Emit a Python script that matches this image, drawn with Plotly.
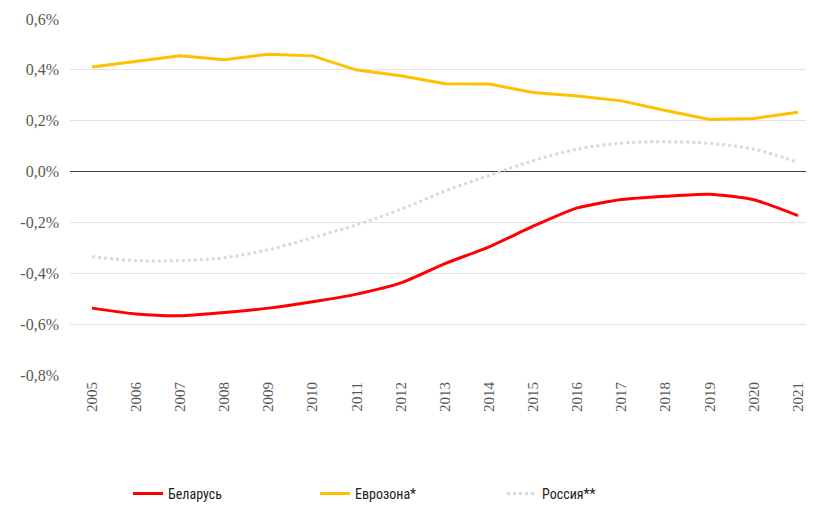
import plotly.graph_objects as go

years = [str(y) for y in range(2005, 2022)]
belarus = [-0.537, -0.560, -0.567, -0.554, -0.537, -0.512, -0.482, -0.438, -0.362,
           -0.296, -0.215, -0.143, -0.110, -0.097, -0.089, -0.111, -0.173]
eurozone = [0.411, 0.433, 0.455, 0.440, 0.461, 0.455, 0.399, 0.377, 0.345,
            0.344, 0.311, 0.297, 0.278, 0.240, 0.205, 0.209, 0.233]
russia = [-0.335, -0.350, -0.350, -0.339, -0.307, -0.260, -0.209, -0.148, -0.077,
          -0.015, 0.043, 0.088, 0.112, 0.117, 0.111, 0.088, 0.036]
tick_vals = [0.6, 0.4, 0.2, 0.0, -0.2, -0.4, -0.6, -0.8]
tick_text = ["0,6%", "0,4%", "0,2%", "0,0%", "-0,2%", "-0,4%", "-0,6%", "-0,8%"]

fig = go.Figure()
fig.add_trace(go.Scatter(x=years, y=belarus, name="Беларусь", mode="lines",
                         line=dict(color="#FF0000", width=3, shape="spline", smoothing=0.6)))
fig.add_trace(go.Scatter(x=years, y=eurozone, name="Еврозона*", mode="lines",
                         line=dict(color="#FFC000", width=3)))
fig.add_trace(go.Scatter(x=years, y=russia, name="Россия**", mode="lines",
                         line=dict(color="#D9D9D9", width=3, dash="dot", shape="spline")))

fig.update_layout(
    width=806, height=499,
    margin=dict(l=62, r=0, t=11, b=132, autoexpand=False),
    plot_bgcolor="white", paper_bgcolor="white",
    showlegend=True,
    legend=dict(orientation="h", x=0.078, xanchor="left", y=-0.289, yanchor="top",
                entrywidth=142, entrywidthmode="pixels",
                font=dict(family="Liberation Sans Narrow, Roboto Condensed, Roboto, sans-serif", size=14, color="#222222")),
    xaxis=dict(type="category", tickangle=-90, showgrid=False, zeroline=False,
               showline=False, ticks="", range=[-0.4986, 16.363], automargin=False,
               ticklabelstandoff=3,
               tickfont=dict(family="Liberation Serif, DejaVu Serif, serif", size=15, color="#595959")),
    yaxis=dict(range=[-0.8, 0.6], tickvals=tick_vals, ticktext=tick_text,
               showgrid=True, gridcolor="#E3E3E3", gridwidth=1, automargin=False,
               zeroline=True, zerolinecolor="#404040", zerolinewidth=1,
               ticks="", ticklen=0, ticklabelstandoff=10,
               tickfont=dict(family="Liberation Serif, DejaVu Serif, serif", size=16, color="#595959")),
)

fig.write_html("out.html")
